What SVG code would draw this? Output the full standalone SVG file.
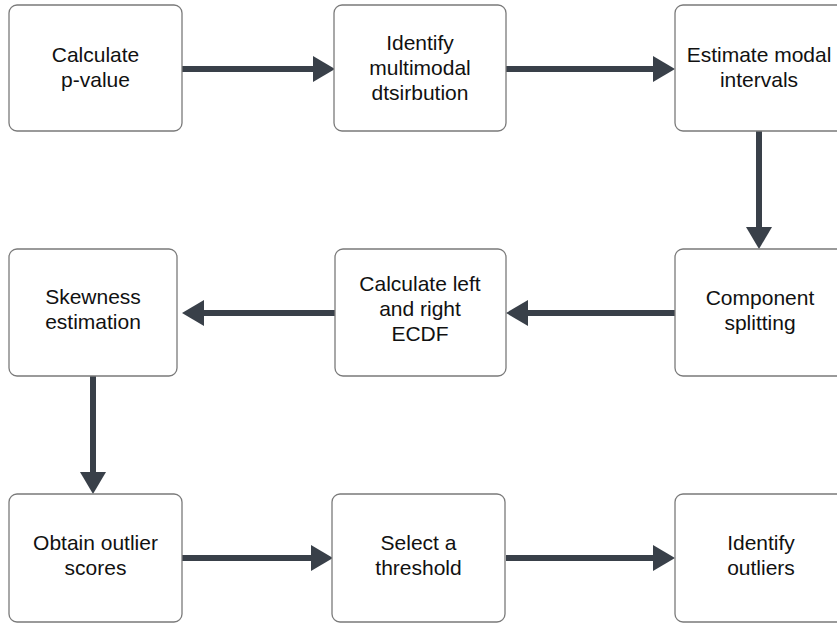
<svg xmlns="http://www.w3.org/2000/svg" width="837" height="623" viewBox="0 0 837 623">
<defs>
<style>
.box{fill:#ffffff;stroke:#7a7a7a;stroke-width:1.3}
.lbl{font-family:"Liberation Sans",Arial,sans-serif;font-size:21px;fill:#111111;text-anchor:middle}
.conn{stroke:#394049;stroke-width:6;fill:none}
</style>
<marker id="ah" markerUnits="userSpaceOnUse" markerWidth="24" markerHeight="28" refX="0" refY="13" orient="auto">
<path d="M0,0 L22,13 L0,26 Z" fill="#394049"/>
</marker>
</defs>
<rect width="837" height="623" fill="#ffffff"/>
<g id="connectors">
<line class="conn" x1="182" y1="69" x2="313" y2="69" marker-end="url(#ah)"/>
<line class="conn" x1="506" y1="69" x2="653" y2="69" marker-end="url(#ah)"/>
<line class="conn" x1="759" y1="131" x2="759" y2="227" marker-end="url(#ah)"/>
<line class="conn" x1="675" y1="313" x2="528" y2="313" marker-end="url(#ah)"/>
<line class="conn" x1="335" y1="313" x2="204" y2="313" marker-end="url(#ah)"/>
<line class="conn" x1="93" y1="376" x2="93" y2="472" marker-end="url(#ah)"/>
<line class="conn" x1="182" y1="558" x2="311" y2="558" marker-end="url(#ah)"/>
<line class="conn" x1="506" y1="558" x2="653" y2="558" marker-end="url(#ah)"/>
</g>
<g id="n1"><rect class="box" x="9" y="5" width="173" height="126" rx="8"/>
<text class="lbl" x="95.5"><tspan x="95.5" y="62">Calculate</tspan><tspan x="95.5" y="87">p-value</tspan></text></g>
<g id="n2"><rect class="box" x="334" y="5" width="172" height="126" rx="8"/>
<text class="lbl"><tspan x="420" y="50">Identify</tspan><tspan x="420" y="75">multimodal</tspan><tspan x="420" y="100">dtsirbution</tspan></text></g>
<g id="n3"><rect class="box" x="675" y="5" width="173" height="126" rx="8"/>
<text class="lbl"><tspan x="759" y="62">Estimate modal</tspan><tspan x="759" y="87">intervals</tspan></text></g>
<g id="n4"><rect class="box" x="675" y="249" width="173" height="127" rx="8"/>
<text class="lbl"><tspan x="760" y="305">Component</tspan><tspan x="760" y="330">splitting</tspan></text></g>
<g id="n5"><rect class="box" x="335" y="249" width="171" height="127" rx="8"/>
<text class="lbl"><tspan x="420" y="291">Calculate left</tspan><tspan x="420" y="316">and right</tspan><tspan x="420" y="341">ECDF</tspan></text></g>
<g id="n6"><rect class="box" x="9" y="249" width="168" height="127" rx="8"/>
<text class="lbl"><tspan x="93" y="304">Skewness</tspan><tspan x="93" y="329">estimation</tspan></text></g>
<g id="n7"><rect class="box" x="9" y="494" width="173" height="128" rx="8"/>
<text class="lbl"><tspan x="95.5" y="550">Obtain outlier</tspan><tspan x="95.5" y="575">scores</tspan></text></g>
<g id="n8"><rect class="box" x="332" y="494" width="173" height="128" rx="8"/>
<text class="lbl"><tspan x="418.5" y="550">Select a</tspan><tspan x="418.5" y="575">threshold</tspan></text></g>
<g id="n9"><rect class="box" x="675" y="494" width="173" height="128" rx="8"/>
<text class="lbl"><tspan x="761" y="550">Identify</tspan><tspan x="761" y="575">outliers</tspan></text></g>
</svg>
